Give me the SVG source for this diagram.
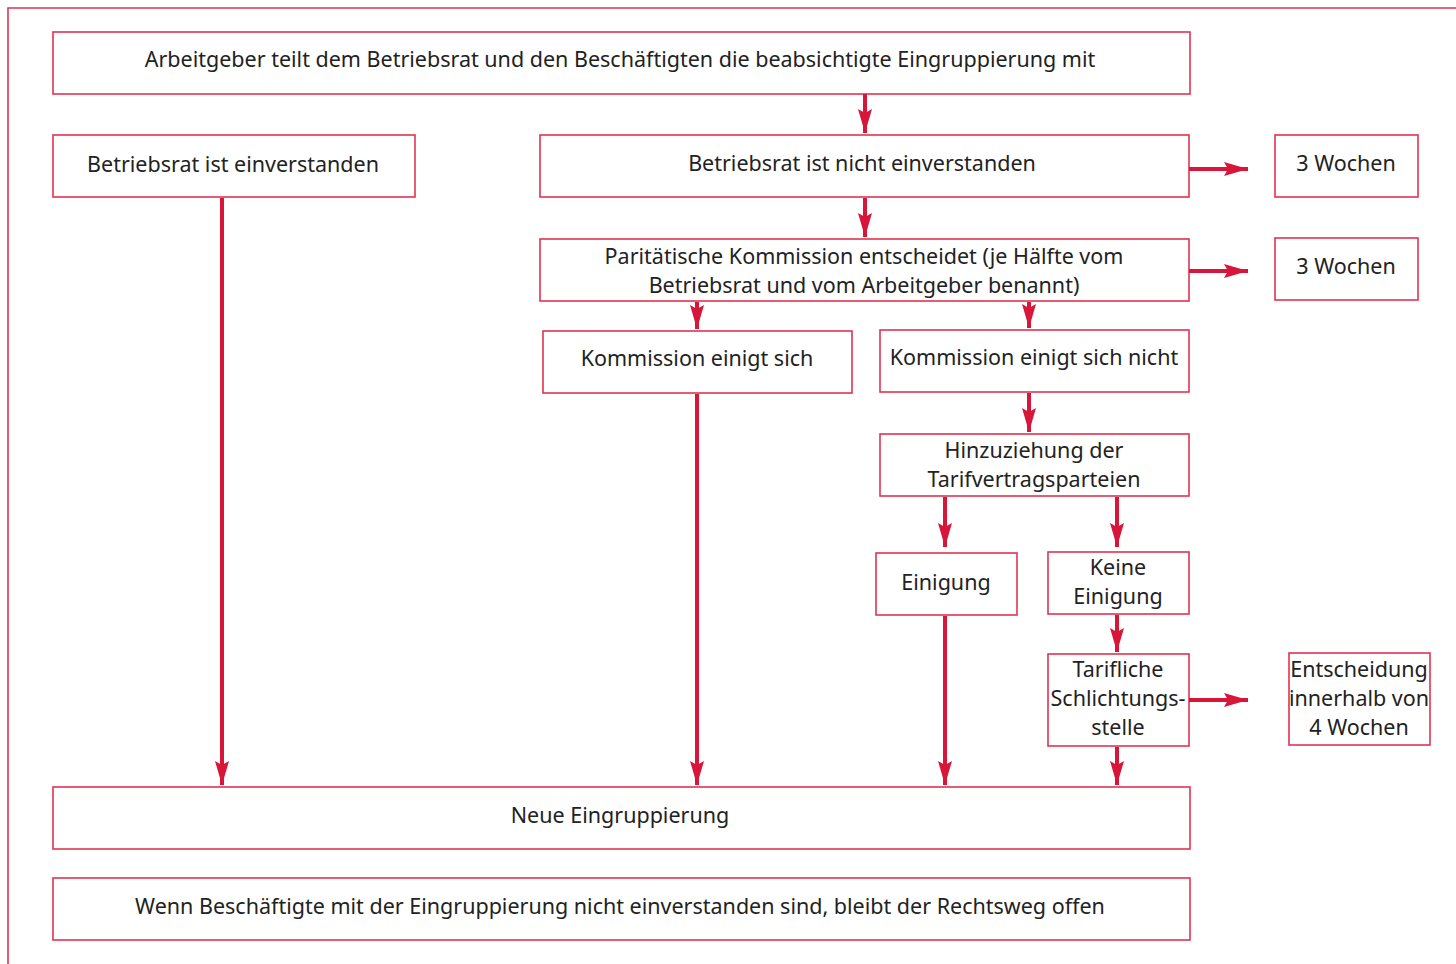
<svg xmlns="http://www.w3.org/2000/svg" width="1456" height="964" viewBox="0 0 1456 964">
<style>
.box{fill:#fff;stroke:#e0344f;stroke-width:1.6}
.t{font-family:"Noto Sans","Open Sans",sans-serif;font-size:21.5px;fill:#222;text-anchor:middle}
.c{stroke:#d8163a;stroke-width:4;fill:none}
</style>
<defs>
<marker id="ah" markerUnits="userSpaceOnUse" markerWidth="26" markerHeight="16" refX="24" refY="8" orient="auto">
<path d="M0,1 L24,8 L0,15 L4,8 z" fill="#d8163a"/>
</marker>
</defs>
<rect width="1456" height="964" fill="#fff"/>
<path d="M8,964 V8 H1456" fill="none" stroke="#e0344f" stroke-width="1.6"/>
<g id="n1"><rect class="box" x="53" y="32" width="1137" height="62"/><text class="t" x="620" y="67">Arbeitgeber teilt dem Betriebsrat und den Beschäftigten die beabsichtigte Eingruppierung mit</text></g>
<g id="n2"><rect class="box" x="53" y="135" width="362" height="62"/><text class="t" x="233" y="172">Betriebsrat ist einverstanden</text></g>
<g id="n3"><rect class="box" x="540" y="135" width="649" height="62"/><text class="t" x="862" y="171">Betriebsrat ist nicht einverstanden</text></g>
<g id="n4"><rect class="box" x="1275" y="135" width="143" height="62"/><text class="t" x="1346" y="171">3 Wochen</text></g>
<g id="n5"><rect class="box" x="540" y="239" width="649" height="62"/><text class="t" x="864" y="264">Paritätische Kommission entscheidet (je Hälfte vom</text><text class="t" x="864" y="293">Betriebsrat und vom Arbeitgeber benannt)</text></g>
<g id="n6"><rect class="box" x="1275" y="238" width="143" height="62"/><text class="t" x="1346" y="274">3 Wochen</text></g>
<g id="n7"><rect class="box" x="543" y="331" width="309" height="62"/><text class="t" x="697" y="366">Kommission einigt sich</text></g>
<g id="n8"><rect class="box" x="880" y="330" width="309" height="62"/><text class="t" x="1034" y="365">Kommission einigt sich nicht</text></g>
<g id="n9"><rect class="box" x="880" y="434" width="309" height="62"/><text class="t" x="1034" y="458">Hinzuziehung der</text><text class="t" x="1034" y="487">Tarifvertragsparteien</text></g>
<g id="n10"><rect class="box" x="876" y="553" width="141" height="62"/><text class="t" x="946" y="590">Einigung</text></g>
<g id="n11"><rect class="box" x="1048" y="552" width="141" height="62"/><text class="t" x="1118" y="575">Keine</text><text class="t" x="1118" y="604">Einigung</text></g>
<g id="n12"><rect class="box" x="1048" y="654" width="141" height="92"/><text class="t" x="1118" y="677">Tarifliche</text><text class="t" x="1118" y="706">Schlichtungs-</text><text class="t" x="1118" y="735">stelle</text></g>
<g id="n13"><rect class="box" x="1289" y="653" width="141" height="92"/><text class="t" x="1359" y="677">Entscheidung</text><text class="t" x="1359" y="706">innerhalb von</text><text class="t" x="1359" y="735">4 Wochen</text></g>
<g id="n14"><rect class="box" x="53" y="787" width="1137" height="62"/><text class="t" x="620" y="823">Neue Eingruppierung</text></g>
<g id="n15"><rect class="box" x="53" y="878" width="1137" height="62"/><text class="t" x="620" y="914">Wenn Beschäftigte mit der Eingruppierung nicht einverstanden sind, bleibt der Rechtsweg offen</text></g>
<g id="connectors">
<path class="c" marker-end="url(#ah)" d="M865,94 V133"/>
<path class="c" marker-end="url(#ah)" d="M865,198 V237"/>
<path class="c" marker-end="url(#ah)" d="M1189,169 H1248"/>
<path class="c" marker-end="url(#ah)" d="M1189,271 H1248"/>
<path class="c" marker-end="url(#ah)" d="M697,302 V329"/>
<path class="c" marker-end="url(#ah)" d="M1029,302 V328"/>
<path class="c" marker-end="url(#ah)" d="M1029,393 V432"/>
<path class="c" marker-end="url(#ah)" d="M945,497 V547"/>
<path class="c" marker-end="url(#ah)" d="M1117,497 V547"/>
<path class="c" marker-end="url(#ah)" d="M1117,615 V652"/>
<path class="c" marker-end="url(#ah)" d="M1189,700 H1248"/>
<path class="c" marker-end="url(#ah)" d="M222,198 V785"/>
<path class="c" marker-end="url(#ah)" d="M697,394 V785"/>
<path class="c" marker-end="url(#ah)" d="M945,616 V785"/>
<path class="c" marker-end="url(#ah)" d="M1117,747 V785"/>
</g>
</svg>
